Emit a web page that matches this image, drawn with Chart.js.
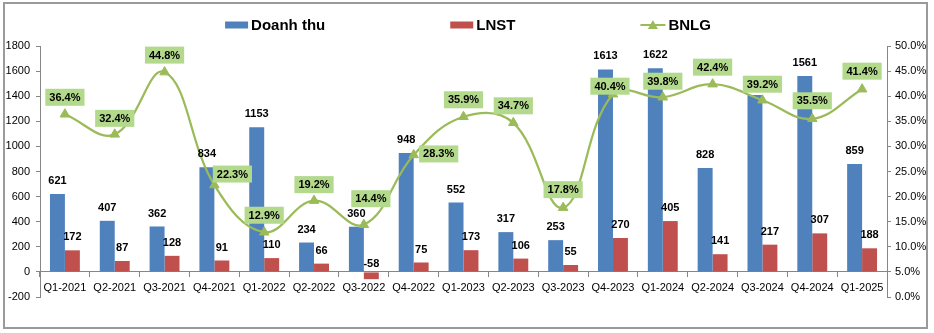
<!DOCTYPE html>
<html><head><meta charset="utf-8">
<script src="https://cdn.jsdelivr.net/npm/chart.js@4.4.1/dist/chart.umd.min.js"></script>
<style>
html,body{margin:0;padding:0;background:#fff;}
#wrap{position:relative;width:934px;height:333px;}
#frame{position:absolute;left:3px;top:2px;width:921px;height:323px;border:2px solid #9a9a9a;pointer-events:none;}
canvas{display:block;}
</style></head>
<body>
<div id="wrap"><canvas id="c" width="934" height="333"></canvas><div id="frame"></div></div>
<script>
// ---- data ----
const categories = ["Q1-2021","Q2-2021","Q3-2021","Q4-2021","Q1-2022","Q2-2022","Q3-2022","Q4-2022","Q1-2023","Q2-2023","Q3-2023","Q4-2023","Q1-2024","Q2-2024","Q3-2024","Q4-2024","Q1-2025"];
const revenue = [621,407,362,834,1153,234,360,948,552,317,253,1613,1622,828,1410,1561,859];
const profit = [172,87,128,91,110,66,-58,75,173,106,55,270,405,141,217,307,188];
const bnlg = [36.4,32.4,44.8,22.3,12.9,19.2,14.4,28.3,35.9,34.7,17.8,40.4,39.8,42.4,39.2,35.5,41.4];
const seriesNames = ["Doanh thu","LNST","BNLG"];
const leftTicks = [-200,0,200,400,600,800,1000,1200,1400,1600,1800];
const rightTicks = [0,5,10,15,20,25,30,35,40,45,50];

// ---- styles ----
const BLUE = '#4f81bd', RED = '#c0504d', GREEN = '#9bbb59', LABELBG = '#b3d98c', AXIS = '#868686';
const FONT = '"Liberation Sans", Arial, sans-serif';
// label placement offsets (dx, dy) for the BNLG labels relative to their point
const bnlgLabelOffsets = [[0,-17],[0,-16],[0,-17],[18,-11],[0,-17],[0,-16],[7,-26],[25,-1],[0,-17],[0,-17],[0,-18],[-3,-8],[0,-16],[0,-17],[0,-16],[0,-18],[0,-18]];

const legendPlugin = {
  id: 'customLegend',
  afterDraw(chart) {
    const ctx = chart.ctx;
    ctx.save();
    ctx.font = 'bold 15px ' + FONT;
    ctx.textBaseline = 'middle';
    ctx.textAlign = 'left';
    const boxW = 23, gap = 3, spacing = 125, y = 25;
    const ds = chart.data.datasets;
    const widths = ds.map(d => boxW + gap + ctx.measureText(d.label).width);
    const total = widths.reduce((a, b) => a + b, 0) + spacing * (ds.length - 1);
    let x = (chart.width - total) / 2;
    ds.forEach((d, i) => {
      if (d.type === 'line') {
        ctx.strokeStyle = d.borderColor; ctx.lineWidth = 2;
        ctx.beginPath(); ctx.moveTo(x, y); ctx.lineTo(x + boxW + 2, y); ctx.stroke();
        ctx.fillStyle = d.borderColor;
        ctx.beginPath();
        const cx = x + boxW / 2 + 1, r = 5;
        ctx.moveTo(cx, y - r); ctx.lineTo(cx + r, y + r * 0.8); ctx.lineTo(cx - r, y + r * 0.8); ctx.closePath(); ctx.fill();
      } else {
        ctx.fillStyle = d.backgroundColor;
        ctx.fillRect(x, y - 3.5, boxW, 7);
      }
      ctx.fillStyle = '#000';
      ctx.fillText(d.label, x + boxW + gap + (d.type === 'line' ? 2 : 0), y + 1);
      x += widths[i] + spacing;
    });
    ctx.restore();
  }
};

const labelPlugin = {
  id: 'valueLabels',
  afterDatasetsDraw(chart) {
    const ctx = chart.ctx;
    ctx.save();
    ctx.font = 'bold 11px ' + FONT;
    ctx.textAlign = 'center';
    ctx.textBaseline = 'middle';
    ctx.fillStyle = '#000';
    const yScale = chart.scales.y;
    chart.data.datasets.forEach((d, di) => {
      if (d.type === 'line') return;
      const meta = chart.getDatasetMeta(di);
      meta.data.forEach((el, i) => {
        const v = d.data[i];
        const ty = v >= 0 ? el.y - 13 : yScale.getPixelForValue(0) - 8;
        ctx.fillText(String(v), el.x, ty);
      });
    });
    chart.data.datasets.forEach((d, di) => {
      if (d.type !== 'line') return;
      const meta = chart.getDatasetMeta(di);
      meta.data.forEach((el, i) => {
        const t = d.data[i].toFixed(1) + '%';
        const off = bnlgLabelOffsets[i] || [0, -17];
        const cx = el.x + off[0], cy = el.y + off[1];
        const w = ctx.measureText(t).width + 8, h = 17;
        ctx.fillStyle = LABELBG;
        ctx.fillRect(cx - w / 2, cy - h / 2, w, h);
        ctx.fillStyle = '#000';
        ctx.fillText(t, cx, cy + 0.5);
      });
    });
    ctx.restore();
  }
};

new Chart(document.getElementById('c'), {
  data: {
    labels: categories,
    datasets: [
      {type: 'bar', label: seriesNames[0], data: revenue, backgroundColor: BLUE, borderWidth: 0, yAxisID: 'y', order: 1, categoryPercentage: 0.6, barPercentage: 1.0},
      {type: 'bar', label: seriesNames[1], data: profit, backgroundColor: RED, borderWidth: 0, yAxisID: 'y', order: 1, categoryPercentage: 0.6, barPercentage: 1.0},
      {type: 'line', label: seriesNames[2], data: bnlg, borderColor: GREEN, backgroundColor: GREEN, borderWidth: 2.25, tension: 0.4,
       pointStyle: 'triangle', pointRadius: 5.5, pointBackgroundColor: GREEN, pointBorderColor: GREEN, pointBorderWidth: 1, yAxisID: 'y1', order: 0, fill: false}
    ]
  },
  options: {
    responsive: false,
    animation: false,
    devicePixelRatio: 1,
    layout: {padding: {top: 46, bottom: 36, left: 0, right: 0}},
    plugins: {legend: {display: false}, tooltip: {enabled: false}},
    scales: {
      x: {
        type: 'category',
        position: {y: 0},
        offset: true,
        grid: {display: true, drawOnChartArea: false, drawTicks: true, tickLength: 5, color: AXIS, offset: true},
        border: {display: true, color: AXIS, width: 1},
        ticks: {font: {family: FONT, size: 11}, color: '#000', padding: 4, maxRotation: 0, autoSkip: false}
      },
      y: {
        type: 'linear', position: 'left', min: -200, max: 1800,
        afterBuildTicks: s => { s.ticks = leftTicks.map(v => ({value: v})); },
        afterFit: s => { s.width = 40; },
        grid: {display: true, drawOnChartArea: false, drawTicks: true, tickLength: 4, color: AXIS},
        border: {display: true, color: AXIS, width: 1},
        ticks: {font: {family: FONT, size: 11}, color: '#000', padding: 6, callback: v => String(v)}
      },
      y1: {
        type: 'linear', position: 'right', min: 0, max: 50,
        afterBuildTicks: s => { s.ticks = rightTicks.map(v => ({value: v})); },
        afterFit: s => { s.width = 47; },
        grid: {display: true, drawOnChartArea: false, drawTicks: true, tickLength: 4, color: AXIS},
        border: {display: true, color: AXIS, width: 1},
        ticks: {font: {family: FONT, size: 11}, color: '#000', padding: 4, callback: v => Number(v).toFixed(1) + '%'}
      }
    }
  },
  plugins: [labelPlugin, legendPlugin]
});
</script>
</body></html>
